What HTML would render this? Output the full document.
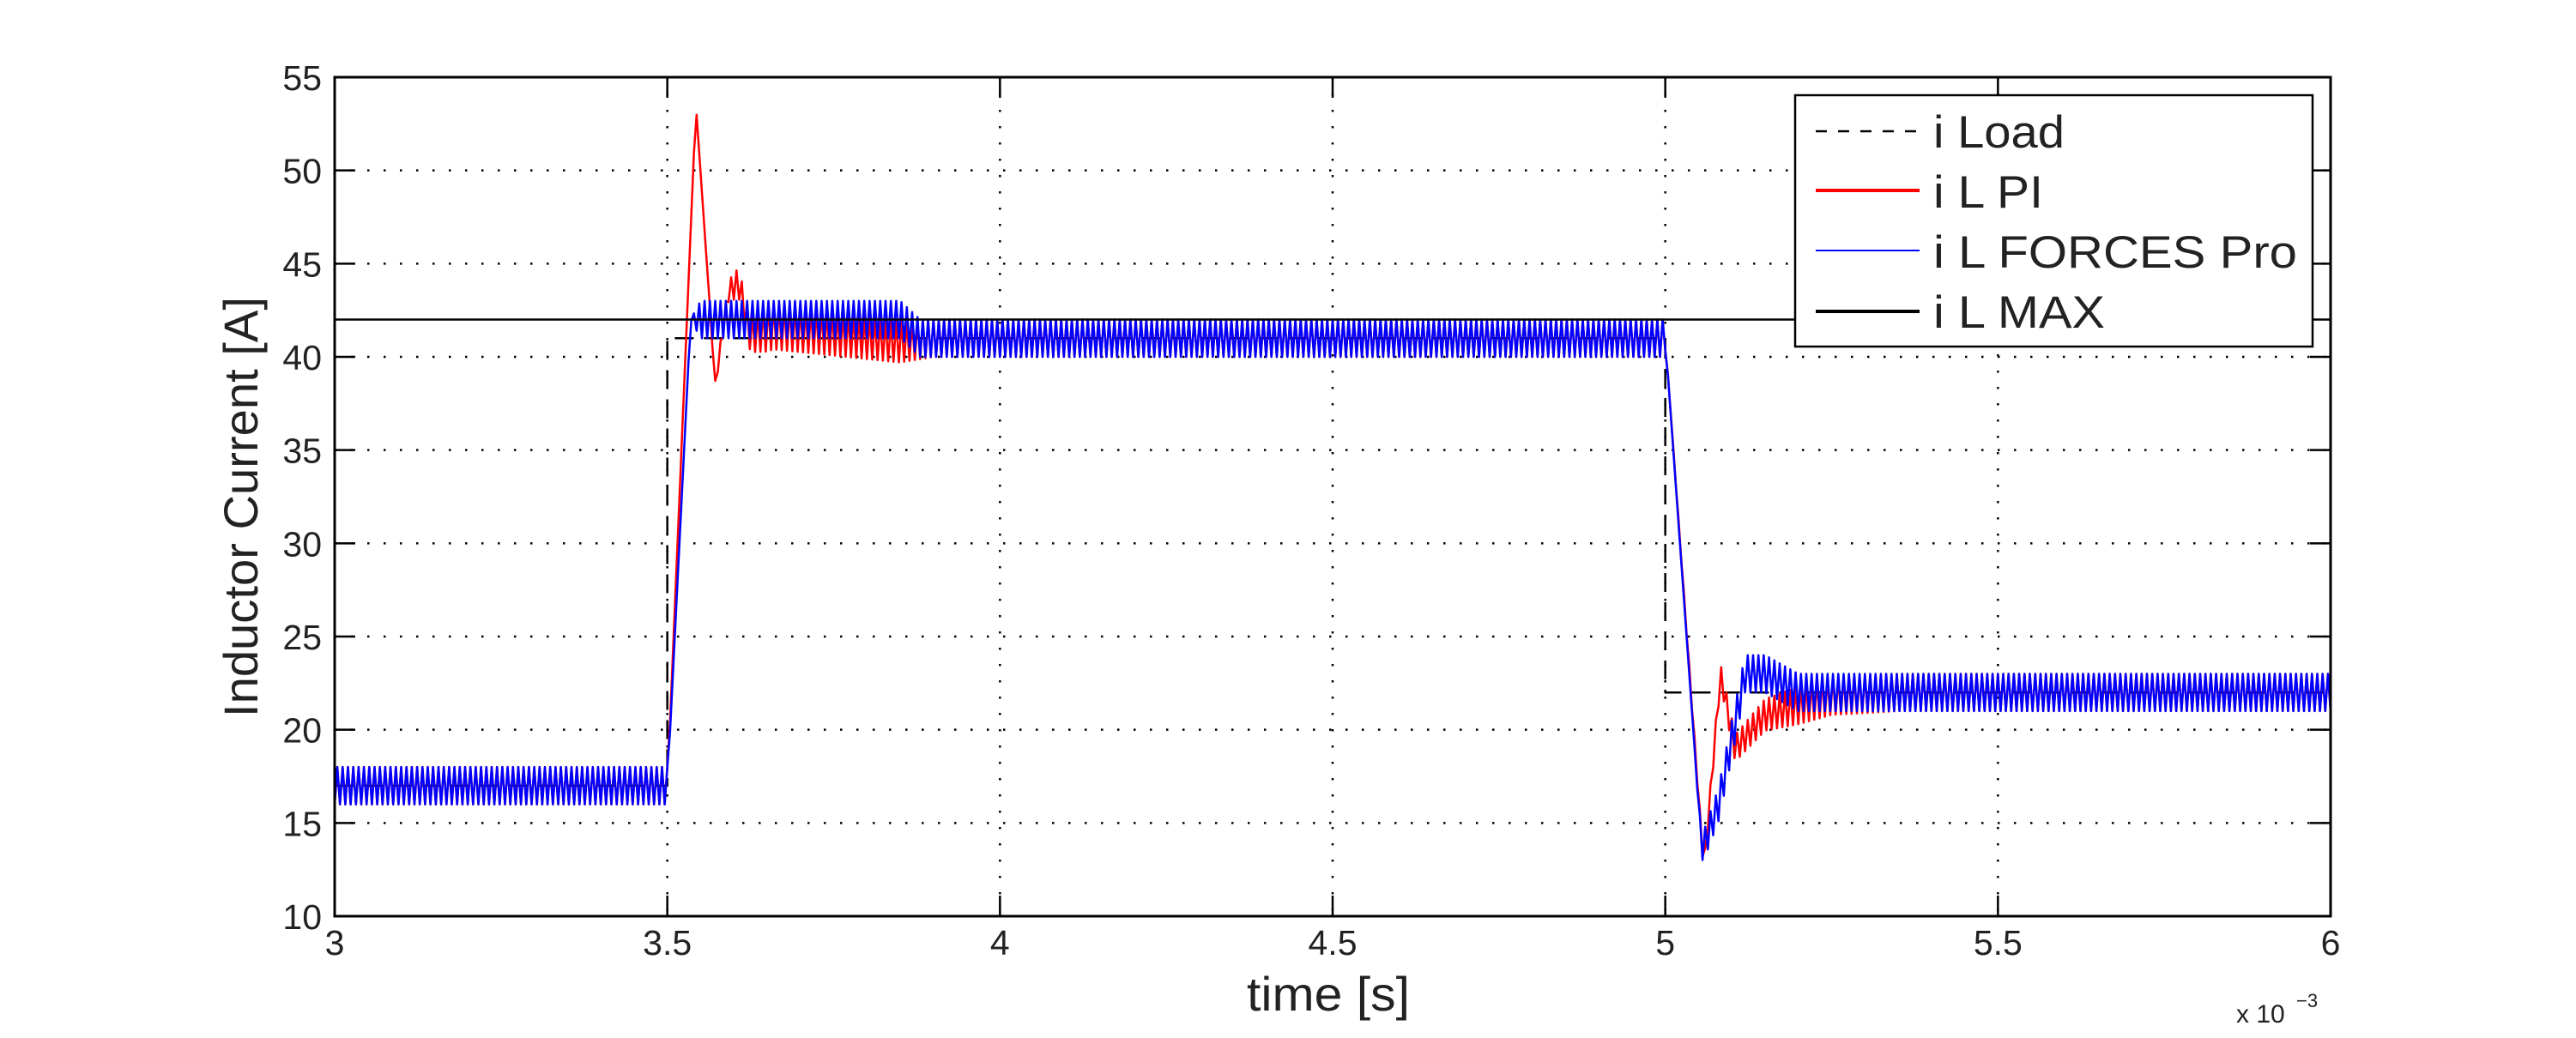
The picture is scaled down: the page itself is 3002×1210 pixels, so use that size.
<!DOCTYPE html>
<html><head><meta charset="utf-8"><style>
html,body{margin:0;padding:0;background:#fff;width:3002px;height:1210px;overflow:hidden}
svg text{font-family:"Liberation Sans",sans-serif;fill:#222}
</style></head><body>
<svg id="s" width="3002" height="1210" xmlns="http://www.w3.org/2000/svg">
<rect width="3002" height="1210" fill="#fff"/>
<g id="grid" stroke="#000" stroke-width="2.5" stroke-dasharray="2.5 16.5" fill="none"></g>
<g id="data" fill="none" stroke-linejoin="round"></g>
<rect x="390" y="90" width="2326" height="978" fill="none" stroke="#000" stroke-width="3"/>
<g id="ticks" stroke="#000" stroke-width="2.5"></g>
<g id="labels" font-size="41"></g>
<text x="1548" y="1178" font-size="56" text-anchor="middle" textLength="190" lengthAdjust="spacingAndGlyphs">time [s]</text>
<text x="2606" y="1192" font-size="30">x 10</text>
<text x="2676" y="1174" font-size="22">−3</text>
<text transform="translate(300,591) rotate(-90)" font-size="56" text-anchor="middle" textLength="490" lengthAdjust="spacingAndGlyphs">Inductor Current [A]</text>
<g id="legend">
<rect x="2092" y="111" width="603" height="293" fill="#fff" stroke="#000" stroke-width="2.5"/>
<line x1="2116" y1="153" x2="2237" y2="153" stroke="#000" stroke-width="2.5" stroke-dasharray="13 13"/>
<line x1="2116" y1="222" x2="2237" y2="222" stroke="#f00" stroke-width="4"/>
<line x1="2116" y1="292" x2="2237" y2="292" stroke="#00f" stroke-width="2"/>
<line x1="2116" y1="363" x2="2237" y2="363" stroke="#000" stroke-width="4"/>
<text x="2253" y="172" font-size="53" textLength="153" lengthAdjust="spacingAndGlyphs">i Load</text>
<text x="2253" y="242" font-size="53" textLength="128" lengthAdjust="spacingAndGlyphs">i L PI</text>
<text x="2253" y="312" font-size="53" textLength="424" lengthAdjust="spacingAndGlyphs">i L FORCES Pro</text>
<text x="2253" y="382" font-size="53" textLength="200" lengthAdjust="spacingAndGlyphs">i L MAX</text>
</g>
</svg>
<script>
var X0=390,X1=2716,Y0=1068,Y1=90;
function px(t){return X0+(t-3)*(X1-X0)/3}
function py(v){return Y0-(v-10)*(Y0-Y1)/45}
var NS="http://www.w3.org/2000/svg";
function el(p,n,a){var e=document.createElementNS(NS,n);for(var k in a)e.setAttribute(k,a[k]);p.appendChild(e);return e}
var g=document.getElementById('grid'),tk=document.getElementById('ticks'),lb=document.getElementById('labels');
for(var i=0;i<=6;i++){var t=3+i*0.5,x=px(t);
 if(i>0&&i<6)el(g,'line',{x1:x,y1:Y1,x2:x,y2:Y0});
 el(tk,'line',{x1:x,y1:Y0,x2:x,y2:Y0-24});el(tk,'line',{x1:x,y1:Y1,x2:x,y2:Y1+24});
 var s=el(lb,'text',{x:x,y:1113,'text-anchor':'middle'});s.textContent=(t%1==0)?String(t):t.toFixed(1);}
for(var v=10;v<=55;v+=5){var y=py(v);
 if(v>10&&v<55)el(g,'line',{x1:X0,y1:y,x2:X1,y2:y});
 el(tk,'line',{x1:X0,y1:y,x2:X0+24,y2:y});el(tk,'line',{x1:X1,y1:y,x2:X1-24,y2:y});
 var s=el(lb,'text',{x:375,y:y+15,'text-anchor':'end'});s.textContent=v;}
function interp(k,t){if(t<=k[0][0])return k[0][1];for(var i=1;i<k.length;i++){if(t<=k[i][0]){var a=k[i-1],b=k[i];return a[1]+(b[1]-a[1])*(t-a[0])/(b[0]-a[0]);}}return k[k.length-1][1]}
function series(mk,ak,phase){var P=0.008,pts=[];var n=0;
 for(var t=3;t<=6.0001;t+=P/2){var m=interp(mk,t),a=interp(ak,t);var s=(n%2?1:-1)*(phase||1);
  pts.push(px(t).toFixed(1)+','+py(m+s*a).toFixed(1));n++;}
 return pts.join(' ')}
var d=document.getElementById('data');
el(d,'polyline',{points:[px(3),py(17),px(3.5),py(17),px(3.5),py(41),px(5),py(41),px(5),py(22),px(6),py(22)].reduce(function(a,v,i){return a+(i%2?','+v+' ':v)},''),stroke:'#000','stroke-width':2.5,'stroke-dasharray':'22 12'});
var redM=[[3,17],[3.5,17],[3.543,53.5],[3.572,38.5],[3.592,43.5],[3.607,44],[3.625,41.2],[3.66,41.6],[3.85,40.8],[3.9,41],[5.0,41],[5.058,12.5],[5.083,23],[5.105,19],[5.15,20.8],[5.25,21.8],[5.35,22],[6,22]];
var redA=[[3,1],[3.5,1],[3.502,0],[3.56,0],[3.6,0.7],[3.65,1.2],[3.85,1.1],[3.9,1],[4.999,1],[5.002,0],[5.06,0.3],[5.1,0.7],[5.2,1],[6,1]];
var bluM=[[3,17],[3.5,17],[3.535,42],[3.85,42],[3.88,41],[5.0,41],[5.055,13.5],[5.08,16],[5.12,23],[5.15,23],[5.2,22],[6,22]];
var bluA=[[3,1],[3.5,1],[3.502,0],[3.535,0],[3.55,1],[4.999,1],[5.002,0],[5.045,0],[5.06,0.8],[5.1,1],[6,1]];
el(d,'polyline',{points:series(redM,redA,1),stroke:'#f00','stroke-width':2.5});
el(d,'polyline',{points:series(bluM,bluA,1),stroke:'#00f','stroke-width':2.5});
el(d,'line',{x1:X0,y1:py(42),x2:X1,y2:py(42),stroke:'#000','stroke-width':2.5});
</script>
</body></html>
